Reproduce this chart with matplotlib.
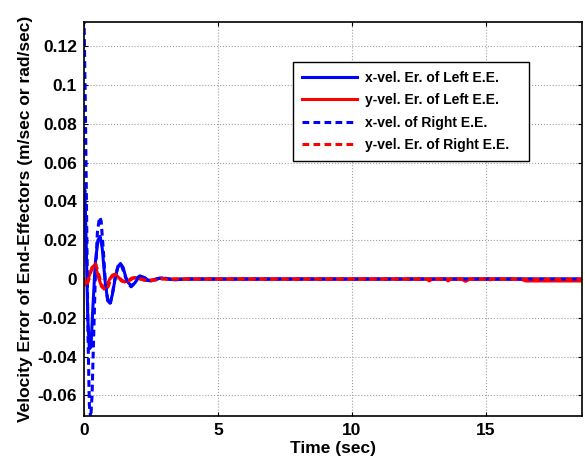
import matplotlib
matplotlib.use("Agg")
import matplotlib.pyplot as plt
from matplotlib.ticker import FuncFormatter

# x-velocity error of the left end-effector
t_xl = [0.0, 0.03, 0.08, 0.14, 0.2, 0.26, 0.33, 0.42, 0.52, 0.6, 0.68, 0.78, 0.88,
        0.97, 1.06, 1.16, 1.26, 1.36, 1.46, 1.56, 1.66, 1.78, 1.9, 2.0, 2.1, 2.22,
        2.36, 2.5, 2.7, 2.9, 3.1, 3.4, 3.8, 18.6]
v_xl = [0.04, 0.046, 0.02, -0.02, -0.036, -0.035, -0.015, 0.008, 0.02, 0.022, 0.016,
        0.0, -0.011, -0.0125, -0.008, 0.0, 0.006, 0.008, 0.006, 0.001, -0.002, -0.0035,
        -0.002, 0.0, 0.0015, 0.001, -0.0005, -0.001, 0.0, 0.0006, 0.0, -0.0004, 0.0, 0.0]

# y-velocity error of the left end-effector
t_yl = [0.0, 0.05, 0.12, 0.2, 0.3, 0.38, 0.46, 0.56, 0.66, 0.76, 0.86, 0.96, 1.06,
        1.16, 1.28, 1.4, 1.52, 1.64, 1.78, 1.92, 2.1, 2.3, 2.5, 2.8, 3.2, 12.8, 12.9,
        13.0, 14.1, 14.25, 14.4, 16.3, 16.5, 18.6]
v_yl = [0.0, -0.003, -0.002, 0.002, 0.006, 0.007, 0.005, 0.0, -0.004, -0.005, -0.003,
        0.0, 0.002, 0.0025, 0.001, -0.001, -0.0015, -0.001, 0.0005, 0.0008, 0.0,
        -0.0008, -0.0005, 0.0003, 0.0, 0.0, -0.001, 0.0, 0.0, -0.0012, 0.0, 0.0,
        -0.001, -0.001]

# x-velocity of the right end-effector
t_xr = [0.0, 0.05, 0.1, 0.15, 0.2, 0.25, 0.3, 0.36, 0.42, 0.5, 0.58, 0.64, 0.72, 0.8,
        0.9, 0.98, 1.08, 1.18, 1.3, 1.4, 1.5, 1.62, 1.76, 1.9, 2.02, 2.14, 2.26, 2.4,
        2.6, 2.8, 3.0, 3.3, 3.7, 18.6]
v_xr = [0.135, 0.09, 0.03, -0.03, -0.065, -0.072, -0.06, -0.03, 0.0, 0.024, 0.032,
        0.03, 0.015, -0.002, -0.012, -0.013, -0.006, 0.002, 0.008, 0.007, 0.003,
        -0.002, -0.004, -0.002, 0.001, 0.002, 0.0008, -0.0008, -0.0008, 0.0004,
        0.0005, -0.0003, 0.0, 0.0]

# y-velocity error of the right end-effector
t_yr = [0.0, 0.06, 0.14, 0.24, 0.34, 0.42, 0.5, 0.6, 0.7, 0.8, 0.9, 1.0, 1.1, 1.2,
        1.32, 1.44, 1.58, 1.72, 1.86, 2.0, 2.2, 2.4, 2.6, 2.9, 3.3, 13.5, 13.6, 13.7,
        15.0, 15.1, 15.2, 18.6]
v_yr = [0.0, -0.004, -0.002, 0.003, 0.007, 0.008, 0.005, 0.0, -0.004, -0.006, -0.004,
        0.0, 0.002, 0.002, 0.0008, -0.001, -0.0015, -0.0006, 0.0006, 0.0006, -0.0003,
        -0.001, -0.0006, 0.0, 0.0, 0.0, -0.001, 0.0, 0.0, -0.001, 0.0, 0.0]

labels = ["x-vel. Er. of Left E.E.", "y-vel. Er. of Left E.E.",
          "x-vel. of Right E.E.", "y-vel. Er. of Right E.E."]

plt.rcParams['font.family'] = ['Liberation Sans', 'DejaVu Sans']
plt.rcParams['font.weight'] = 'bold'

fig = plt.figure(figsize=(5.85, 4.7), dpi=100)
ax = fig.add_axes([0.1436, 0.1149, 0.8513, 0.8383])

lw = 2.2
ax.plot(t_xl, v_xl, color=(0, 0, 1), linewidth=lw, label=labels[0])
ax.plot(t_yl, v_yl, color=(1, 0, 0), linewidth=lw, label=labels[1])
ax.plot(t_xr, v_xr, color=(0, 0, 1), linewidth=lw, linestyle=(0, (2.2, 1.4)), label=labels[2])
ax.plot(t_yr, v_yr, color=(1, 0, 0), linewidth=lw, linestyle=(0, (2.2, 1.4)), label=labels[3])

ax.set_xlim(0, 18.6)
ax.set_ylim(-0.0706, 0.1325)
ax.set_xticks([0, 5, 10, 15])
ax.set_yticks([-0.06, -0.04, -0.02, 0, 0.02, 0.04, 0.06, 0.08, 0.1, 0.12])
ax.yaxis.set_major_formatter(FuncFormatter(lambda v, p: "%g" % round(v, 4)))

ax.tick_params(direction='in', length=3, width=0.8, top=True, right=True,
               labelsize=12.5, pad=5)
for lab in ax.get_xticklabels() + ax.get_yticklabels():
    lab.set_fontweight('bold')
ax.grid(True, linestyle=':', color='#a0a0a0', linewidth=0.8)
for s in ax.spines.values():
    s.set_linewidth(1.2)

ax.set_xlabel("Time (sec)", fontsize=12.5, fontweight='bold', labelpad=2)
ax.set_ylabel("Velocity Error of End-Effectors (m/sec or rad/sec)", fontsize=12.5,
              fontweight='bold', labelpad=3)

leg = ax.legend(loc='upper left', bbox_to_anchor=(0.42, 0.642, 0.474, 0.256),
                mode='expand', borderaxespad=0, fancybox=False, framealpha=1,
                edgecolor='black', prop={'size': 10, 'weight': 'bold'},
                handlelength=4.0, borderpad=0.6, labelspacing=0.62,
                handletextpad=0.6)
leg.get_frame().set_linewidth(1.0)

plt.savefig("out.png", dpi=100)
